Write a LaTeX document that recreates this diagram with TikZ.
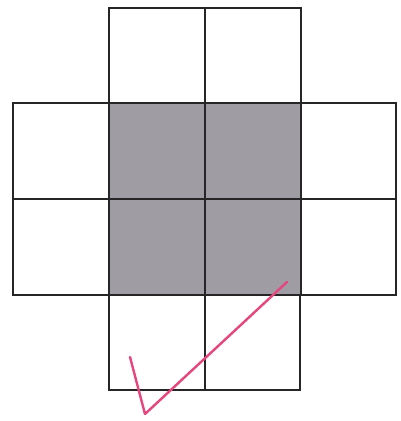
\documentclass[tikz,border=0pt]{standalone}
\begin{document}
\begin{tikzpicture}[x=1pt,y=-1pt,
  gridline/.style={draw=black!85,line width=2.6pt},
  shade/.style={fill={rgb,255:red,160;green,156;blue,164}},
  tick/.style={draw={rgb,255:red,228;green,70;blue,125},line width=2.4pt,line cap=round,line join=round}]
\useasboundingbox[fill=white] (0,0) rectangle (400,421);
\fill[shade] (109,103) rectangle (301,295);
% top cells
\draw[gridline] (109,103) -- (109,8) -- (301,8) -- (301,103);
\draw[gridline] (205,8) -- (205,103);
% middle rows
\draw[gridline] (13,103) rectangle (396,295);
\draw[gridline] (13,199) -- (396,199);
\draw[gridline] (109,103) -- (109,295);
\draw[gridline] (205,103) -- (205,295);
\draw[gridline] (301,103) -- (301,295);
% bottom cells
\draw[gridline] (109,295) -- (109,390) -- (300,390) -- (300,295);
\draw[gridline] (205,295) -- (205,390);
% check mark
\draw[tick] (130,357) -- (145,414) -- (287,282);
\end{tikzpicture}
\end{document}
